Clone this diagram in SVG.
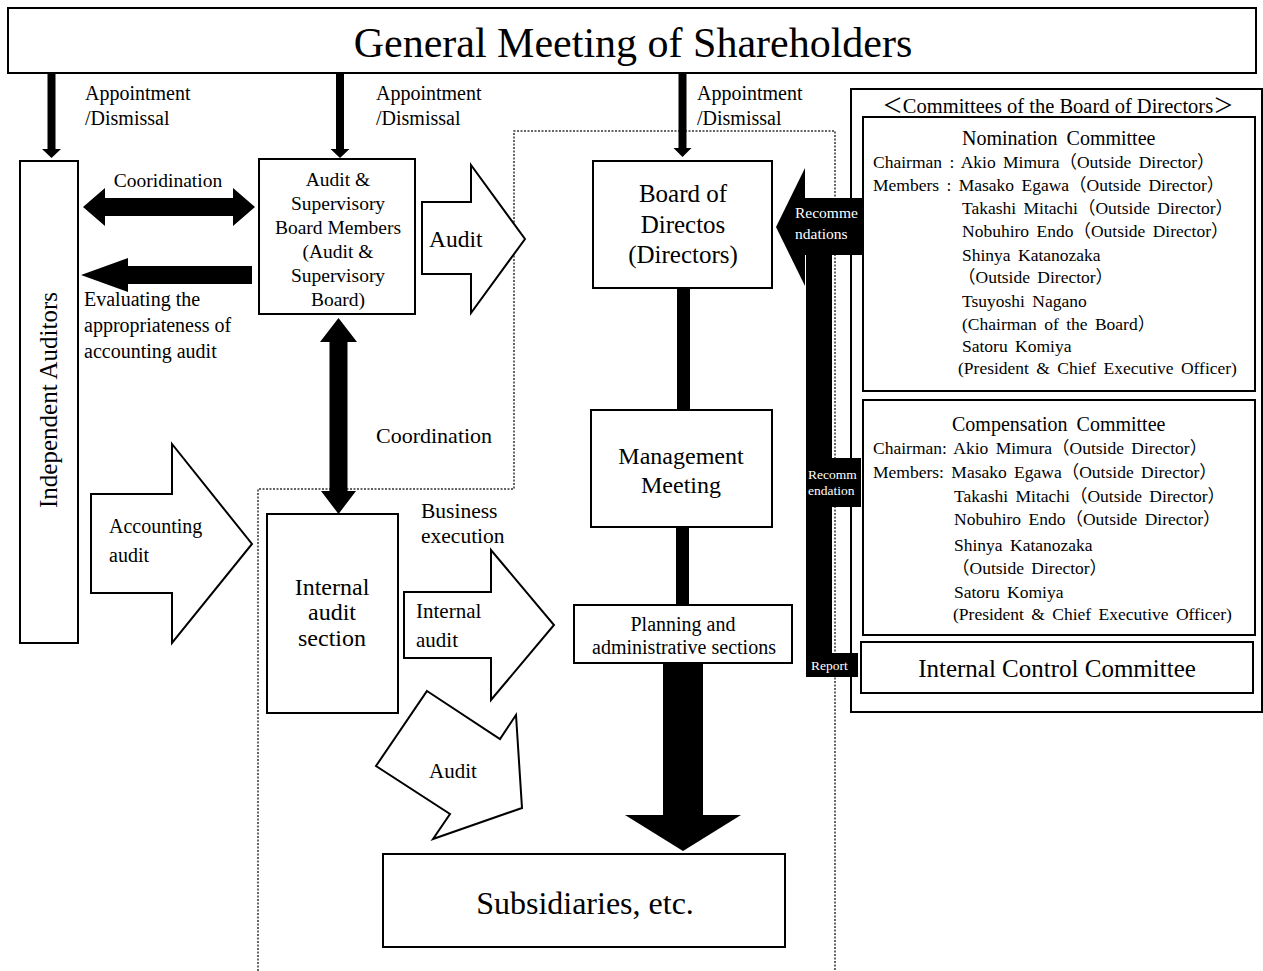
<svg xmlns="http://www.w3.org/2000/svg" width="1263" height="971" viewBox="0 0 1263 971">
<style>
text{font-family:"Liberation Serif","Times New Roman","Noto Sans CJK JP",serif;fill:#000}
.box{fill:#fff;stroke:#000;stroke-width:2}
.hollow{fill:#fff;stroke:#000;stroke-width:2;stroke-linejoin:miter}
.blk{fill:#000;stroke:none}
.dot{fill:none;stroke:#333;stroke-width:1.5;stroke-dasharray:2 1.5}
.c{text-anchor:middle}
.f19{font-size:19px}
.f20{font-size:20px}
.f21{font-size:21px}
.f24{font-size:24px}
.f25{font-size:25px}
.cm{font-size:17.5px;word-spacing:3px}
.wt{fill:#fff}
</style>
<rect width="1263" height="971" fill="#fff"/>

<g id="regions">
<path class="dot" d="M258,971 V489 H514 V131 H835 V971"/>
</g>

<g id="shareholders">
<rect class="box" x="8" y="8" width="1248" height="65"/>
<text class="c" x="633" y="57" font-size="42">General  Meeting of Shareholders</text>
</g>

<g id="independent-auditors">
<rect class="box" x="20" y="161" width="58" height="482"/>
<text class="c f25" transform="translate(57,400) rotate(-90)">Independent  Auditors</text>
</g>

<g id="audit-board">
<rect class="box" x="259" y="159" width="156" height="155"/>
<text class="c" x="338" y="186" font-size="19.5">Audit &amp;</text>
<text class="c" x="338" y="210" font-size="19.5">Supervisory</text>
<text class="c" x="338" y="234" font-size="19.5">Board Members</text>
<text class="c" x="338" y="258" font-size="19.5">(Audit &amp;</text>
<text class="c" x="338" y="282" font-size="19.5">Supervisory</text>
<text class="c" x="338" y="306" font-size="19.5">Board)</text>
</g>

<g id="board-of-directors">
<rect class="box" x="593" y="161" width="179" height="127"/>
<text class="c f25" x="683" y="202">Board of</text>
<text class="c f25" x="683" y="233">Directos</text>
<text class="c f25" x="683" y="263">(Directors)</text>
</g>

<g id="management-meeting">
<rect class="box" x="591" y="410" width="181" height="117"/>
<text class="c f24" x="681" y="464">Management</text>
<text class="c f24" x="681" y="493">Meeting</text>
</g>

<g id="planning">
<rect class="box" x="574" y="605" width="218" height="58"/>
<text class="c f20" x="683" y="631">Planning and</text>
<text class="c f20" x="684" y="654">administrative sections</text>
</g>

<g id="internal-audit-section">
<rect class="box" x="267" y="514" width="131" height="199"/>
<text class="c f24" x="332" y="595">Internal</text>
<text class="c f24" x="332" y="620">audit</text>
<text class="c f24" x="332" y="646">section</text>
</g>

<g id="subsidiaries">
<rect class="box" x="383" y="854" width="402" height="93"/>
<text class="c" x="585" y="914" font-size="32">Subsidiaries, etc.</text>
</g>

<g id="committees">
<rect class="box" x="851" y="89" width="411" height="623"/>
<text class="c" x="1058" y="113" font-size="20.5">＜Committees of the Board of Directors＞</text>
</g>

<g id="nomination-committee">
<rect class="box" x="863" y="117" width="392" height="274"/>
<text class="f20" x="962" y="145" word-spacing="4">Nomination Committee</text>
<text class="cm" x="873" y="168">Chairman : Akio Mimura（Outside Director）</text>
<text class="cm" x="873" y="191">Members : Masako Egawa（Outside Director）</text>
<text class="cm" x="962" y="214">Takashi Mitachi（Outside Director）</text>
<text class="cm" x="962" y="237">Nobuhiro Endo（Outside Director）</text>
<text class="cm" x="962" y="261">Shinya Katanozaka</text>
<text class="cm" x="958" y="283">（Outside Director）</text>
<text class="cm" x="962" y="307">Tsuyoshi Nagano</text>
<text class="cm" x="962" y="330">(Chairman of the Board）</text>
<text class="cm" x="962" y="352">Satoru Komiya</text>
<text class="cm" x="958" y="374">(President &amp; Chief Executive Officer)</text>
</g>

<g id="compensation-committee">
<rect class="box" x="863" y="400" width="392" height="235"/>
<text class="f20" x="952" y="431" word-spacing="4">Compensation Committee</text>
<text class="cm" x="873" y="454">Chairman: Akio Mimura（Outside Director）</text>
<text class="cm" x="873" y="478">Members:  Masako Egawa（Outside Director）</text>
<text class="cm" x="954" y="502">Takashi Mitachi（Outside Director）</text>
<text class="cm" x="954" y="525">Nobuhiro Endo（Outside Director）</text>
<text class="cm" x="954" y="551">Shinya Katanozaka</text>
<text class="cm" x="952" y="574">（Outside Director）</text>
<text class="cm" x="954" y="598">Satoru Komiya</text>
<text class="cm" x="953" y="620">(President &amp; Chief Executive Officer)</text>
</g>

<g id="internal-control-committee">
<rect class="box" x="861" y="642" width="392" height="51"/>
<text class="c f25" x="1057" y="677">Internal Control Committee</text>
</g>

<g id="connectors">
<rect class="blk" x="47.5" y="73" width="8" height="77"/>
<polygon class="blk" points="42,149 61,149 51.5,158"/>
<rect class="blk" x="336" y="73" width="8" height="77"/>
<polygon class="blk" points="330.5,149 349.5,149 340,158"/>
<rect class="blk" x="678.5" y="73" width="8" height="76"/>
<polygon class="blk" points="673.5,148 691.5,148 682.5,157"/>
<text class="f20" x="85" y="100">Appointment</text>
<text class="f20" x="85" y="125">/Dismissal</text>
<text class="f20" x="376" y="100">Appointment</text>
<text class="f20" x="376" y="125">/Dismissal</text>
<text class="f20" x="697" y="100">Appointment</text>
<text class="f20" x="697" y="125">/Dismissal</text>

<polygon class="blk" points="83,207 105,188 105,198 233,198 233,188 255,207 233,226 233,216 105,216 105,226"/>
<text class="c" x="168" y="187" font-size="19.5">Cooridination</text>

<polygon class="blk" points="81,275 128,258 128,266 252,266 252,284 128,284 128,292"/>
<text class="f20" x="84" y="306">Evaluating the</text>
<text class="f20" x="84" y="332">appropriateness of</text>
<text class="f20" x="84" y="358">accounting audit</text>

<polygon class="hollow" points="422,202 471,202 471,165 525,239 471,313 471,274 422,274"/>
<text x="429" y="247" font-size="23.5">Audit</text>

<polygon class="blk" points="338.5,318 357,342 347.5,342 347.5,491 356,491 338.5,514 321,491 329.5,491 329.5,342 320,342"/>
<text x="376" y="443" font-size="22">Coordination</text>

<polygon class="hollow" points="91,494 172,494 172,444 252,544 172,643 172,593 91,593"/>
<text class="f20" x="109" y="533">Accounting</text>
<text class="f20" x="109" y="562">audit</text>

<polygon class="hollow" points="404,592 491,592 491,550 554,625 491,700 491,658 404,658"/>
<text class="f21" x="416" y="618">Internal</text>
<text class="f21" x="416" y="647">audit</text>
<text x="421" y="518" font-size="21.5">Business</text>
<text x="421" y="543" font-size="21.5">execution</text>

<polygon class="hollow" points="427,691 500,739 516,715 522,808 433,839 450,814 376,766"/>
<text class="f21" x="429" y="778">Audit</text>

<rect class="blk" x="677" y="288" width="13" height="122"/>
<rect class="blk" x="676" y="527" width="13" height="78"/>
<rect class="blk" x="663" y="663" width="40" height="153"/>
<polygon class="blk" points="625,815 741,815 683,851"/>

<polygon class="blk" points="776,227 805,168 805,286"/>
<rect class="blk" x="803" y="198" width="59" height="57"/>
<rect class="blk" x="806" y="198" width="26" height="479"/>
<rect class="blk" x="806" y="458" width="55" height="49"/>
<rect class="blk" x="806" y="653" width="52" height="24"/>
<text class="wt" x="795" y="218" font-size="15.5">Recomme</text>
<text class="wt" x="795" y="239" font-size="15.5">ndations</text>
<text class="wt" x="808" y="479" font-size="13.5">Recomm</text>
<text class="wt" x="808" y="495" font-size="13.5">endation</text>
<text class="wt" x="811" y="670" font-size="13.5">Report</text>
</g>
</svg>
